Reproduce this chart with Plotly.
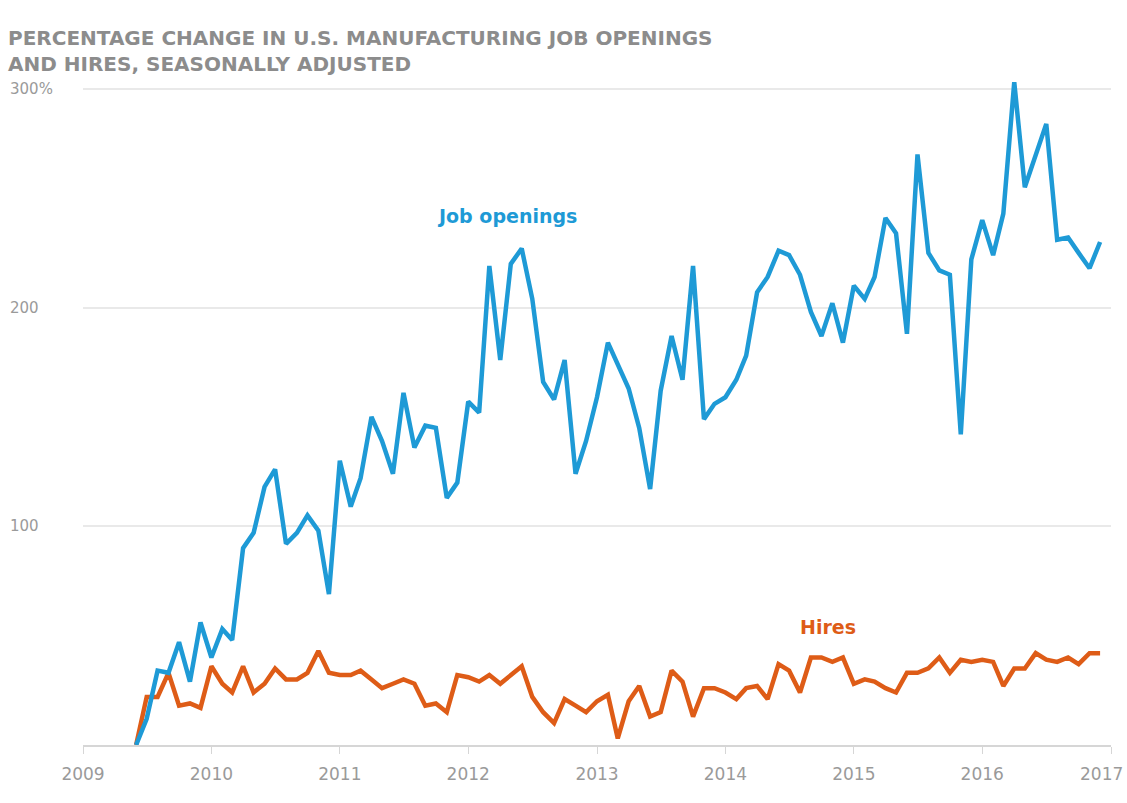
import pandas as pd
import plotly.graph_objects as go

# Monthly data, June 2009 - December 2016 (percentage change since June 2009)
start_month = "2009-06-01"
job_openings = [
    0, 12, 34, 33, 47, 29, 56, 40, 53, 48, 90, 97, 118, 126, 92, 97, 105, 98, 69, 130,
    109, 122, 150, 139, 124, 161, 136, 146, 145, 113, 120, 157, 152, 219, 176, 220, 227, 204, 166, 158,
    176, 124, 139, 159, 184, 174, 163, 145, 117, 162, 187, 167, 219, 149, 156, 159, 167, 178, 207, 214,
    226, 224, 215, 198, 187, 202, 184, 210, 204, 214, 241, 234, 188, 270, 225, 217, 215, 142, 222, 240,
    224, 243, 303, 255, 269, 284, 231, 232, 225, 218, 230,
]
hires = [
    0, 22, 22, 33, 18, 19, 17, 36, 28, 24, 36, 24, 28, 35, 30, 30, 33, 43, 33, 32,
    32, 34, 30, 26, 28, 30, 28, 18, 19, 15, 32, 31, 29, 32, 28, 32, 36, 22, 15, 10,
    21, 18, 15, 20, 23, 3, 20, 27, 13, 15, 34, 29, 13, 26, 26, 24, 21, 26, 27, 21,
    37, 34, 24, 40, 40, 38, 40, 28, 30, 29, 26, 24, 33, 33, 35, 40, 33, 39, 38, 39,
    38, 27, 35, 35, 42, 39, 38, 40, 37, 42, 42,
]
dates = pd.date_range(start_month, periods=len(job_openings), freq="MS")

x_tick_years = [2009, 2010, 2011, 2012, 2013, 2014, 2015, 2016, 2017]
y_tick_values = [100, 200, 300]
y_tick_labels = ["100", "200", "300%"]

title_text = "PERCENTAGE CHANGE IN U.S. MANUFACTURING JOB OPENINGS<br>AND HIRES, SEASONALLY ADJUSTED"
series_labels = {"Job openings": ("2012-04-20", 242), "Hires": ("2014-10-20", 54)}

BLUE = "#1e9ad6"
ORANGE = "#de5c17"
GRAY_TEXT = "#8c8c8c"
TICK_GRAY = "#9a9a9a"
W, H = 1127, 803
ML, MR, MT, MB = 83, 16, 67, 58
plot_w = W - ML - MR
plot_h = H - MT - MB

fig = go.Figure()
fig.add_trace(go.Scatter(x=dates, y=hires, mode="lines", name="Hires",
                         line=dict(color=ORANGE, width=4.5), hoverinfo="skip"))
fig.add_trace(go.Scatter(x=dates, y=job_openings, mode="lines", name="Job openings",
                         line=dict(color=BLUE, width=4.5), hoverinfo="skip"))

annotations = []
for v, lab in zip(y_tick_values, y_tick_labels):
    annotations.append(dict(x=(8 - ML) / plot_w, xref="paper", y=v, yref="y", text=lab,
                            showarrow=False, xanchor="left", yanchor="middle",
                            font=dict(family="DejaVu Sans", size=15, color=TICK_GRAY)))
label_colors = {"Job openings": BLUE, "Hires": ORANGE}
for name, (xd, yv) in series_labels.items():
    annotations.append(dict(x=xd, y=yv, xref="x", yref="y", text="<b>%s</b>" % name,
                            showarrow=False, xanchor="center", yanchor="middle",
                            font=dict(family="DejaVu Sans", size=19, color=label_colors[name])))
# last year label sits at the right edge: right-align it so it stays inside the page
annotations.append(dict(x=(W - 2 - ML) / plot_w, xref="paper", y=-29 / plot_h, yref="paper",
                        text=str(x_tick_years[-1]), showarrow=False, xanchor="right",
                        yanchor="middle",
                        font=dict(family="DejaVu Sans", size=17, color=TICK_GRAY)))

fig.update_layout(
    width=W, height=H,
    margin=dict(l=ML, r=MR, t=MT, b=MB, autoexpand=False),
    paper_bgcolor="white", plot_bgcolor="white",
    showlegend=False,
    title=dict(text="<b>" + title_text + "</b>", x=8 / W, xanchor="left", xref="container",
               y=1 - 45 / H, yanchor="top", yref="container",
               font=dict(family="DejaVu Sans", size=20, color=GRAY_TEXT)),
    annotations=annotations,
    xaxis=dict(type="date", range=["2009-01-01", "2017-01-01"],
               tickvals=["%d-01-01" % y for y in x_tick_years],
               ticktext=[str(y) for y in x_tick_years[:-1]] + [""],
               showgrid=False, zeroline=False, automargin=False,
               showline=True, linecolor="#d6d6d6", linewidth=2,
               ticks="outside", ticklen=7, tickcolor="#d6d6d6", tickwidth=1,
               ticklabelstandoff=6,
               tickfont=dict(family="DejaVu Sans", size=17, color=TICK_GRAY)),
    yaxis=dict(range=[0, 310], tickvals=y_tick_values, showticklabels=False,
               showgrid=True, gridcolor="#e9e9e9", gridwidth=2, automargin=False,
               zeroline=False, showline=False, ticks=""),
)

fig.write_html("out.html")
